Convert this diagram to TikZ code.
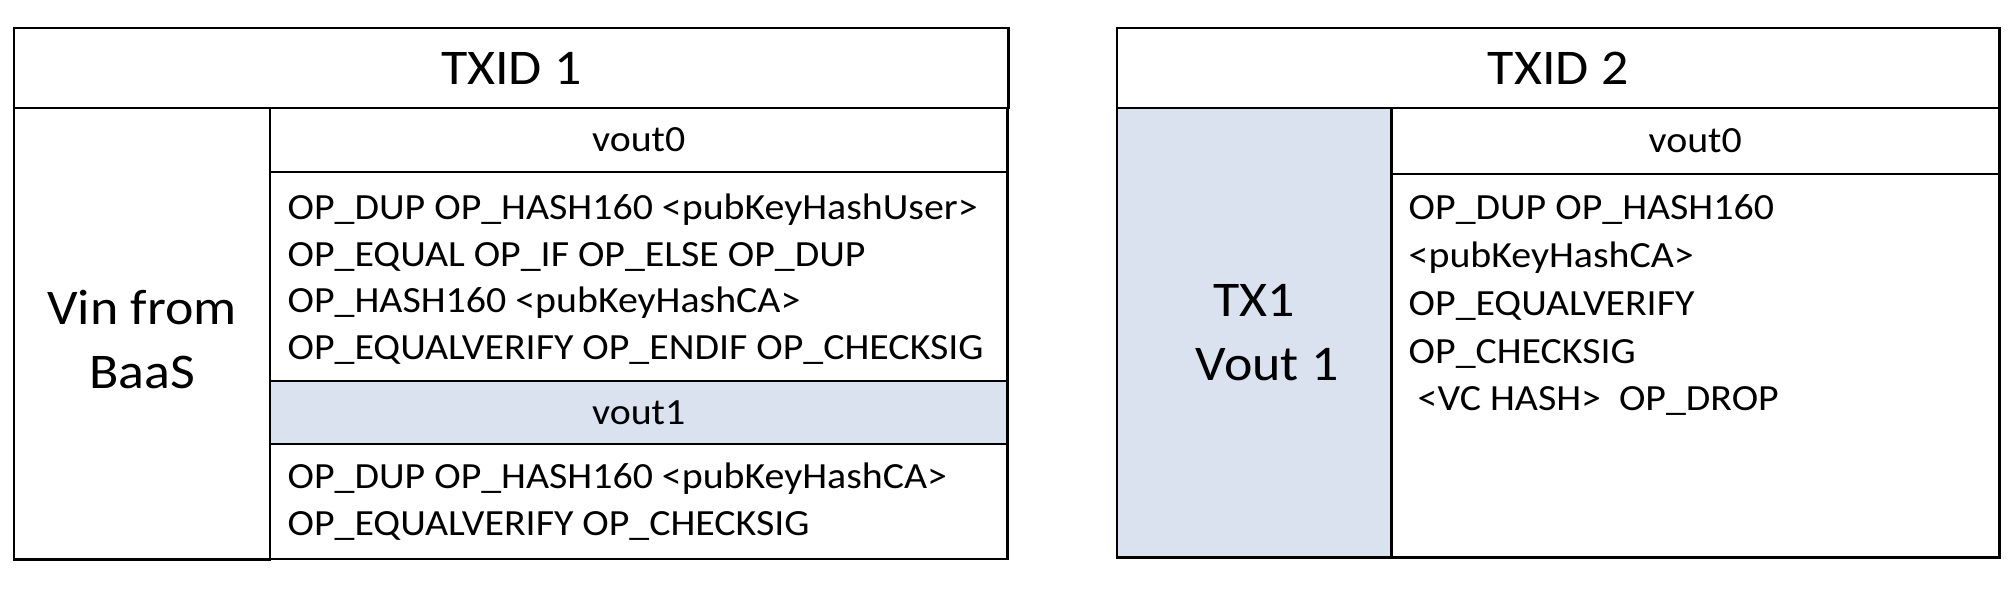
\documentclass[tikz,border=0pt]{standalone}
\usepackage{fontspec}
\setmainfont{Carlito}[FakeStretch=1.08]
\usetikzlibrary{positioning}
\definecolor{outblue}{HTML}{DAE2F0}
\tikzset{
  cell/.style={draw=black,line width=0.75pt,anchor=north west,inner sep=0pt,
    outer sep=0pt},
  txhead/.style={font=\fontsize{14.2}{18.2}\selectfont},
  outhead/.style={font=\fontsize{10.5}{12}\selectfont},
  bigtxt/.style={font=\fontsize{14.2}{18.2}\selectfont,align=center},
  scripttxt/.style={font=\fontsize{10.5}{13.3}\selectfont,align=left,
    inner sep=0pt},
  spent/.style={fill=outblue},
}

\begin{document}
\begin{tikzpicture}[x=0.01cm,y=-0.01cm]
  \useasboundingbox (0,0) rectangle (2016,592);
  % first transaction
  \node[cell,txhead,minimum width=9.94cm,minimum height=0.80cm] (tx1) at (14,28) {TXID 1};
  \node[cell,minimum width=2.56cm,minimum height=4.51cm] (vin1) at (14,108) {};
  \node[bigtxt,yshift=-0.06cm] (vintxt) at (vin1.center) {Vin from\\BaaS};
  \node[cell,outhead,minimum width=7.37cm,minimum height=0.64cm] (out10) at (270,108) {vout0};
  \node[cell,minimum width=7.37cm,minimum height=2.09cm] (scr10) at (270,172) {};
  \node[cell,spent,outhead,minimum width=7.37cm,minimum height=0.63cm] (out11) at (270,381) {vout1};
  \node[cell,minimum width=7.37cm,minimum height=1.15cm] (scr11) at (270,444) {};
  \node[scripttxt,below right=0.21cm and 0.17cm of scr10.north west] (code10)
    {OP\_DUP OP\_HASH160 <pubKeyHashUser>\\
     OP\_EQUAL OP\_IF OP\_ELSE OP\_DUP\\
     OP\_HASH160 <pubKeyHashCA>\\
     OP\_EQUALVERIFY OP\_ENDIF OP\_CHECKSIG};
  \node[scripttxt,below right=0.18cm and 0.17cm of scr11.north west] (code11)
    {OP\_DUP OP\_HASH160 <pubKeyHashCA>\\
     OP\_EQUALVERIFY OP\_CHECKSIG};
  % second transaction
  \node[cell,txhead,minimum width=8.82cm,minimum height=0.80cm] (tx2) at (1117,28) {TXID 2};
  \node[cell,spent,bigtxt,minimum width=2.74cm,minimum height=4.49cm] (vin2) at (1117,108) {TX1\\\hspace*{0.26cm}Vout 1};
  \node[cell,outhead,minimum width=6.08cm,minimum height=0.66cm] (out20) at (1391,108) {vout0};
  \node[cell,minimum width=6.08cm,minimum height=3.83cm] (scr20) at (1391,174) {};
  \node[scripttxt,font=\fontsize{10.5}{13.6}\selectfont,
    below right=0.20cm and 0.17cm of scr20.north west] (code20)
    {OP\_DUP OP\_HASH160\\
     <pubKeyHashCA>\\
     OP\_EQUALVERIFY\\
     OP\_CHECKSIG\\
     \hspace*{0.09cm}<VC HASH>\ \ OP\_DROP};
\end{tikzpicture}
\end{document}
